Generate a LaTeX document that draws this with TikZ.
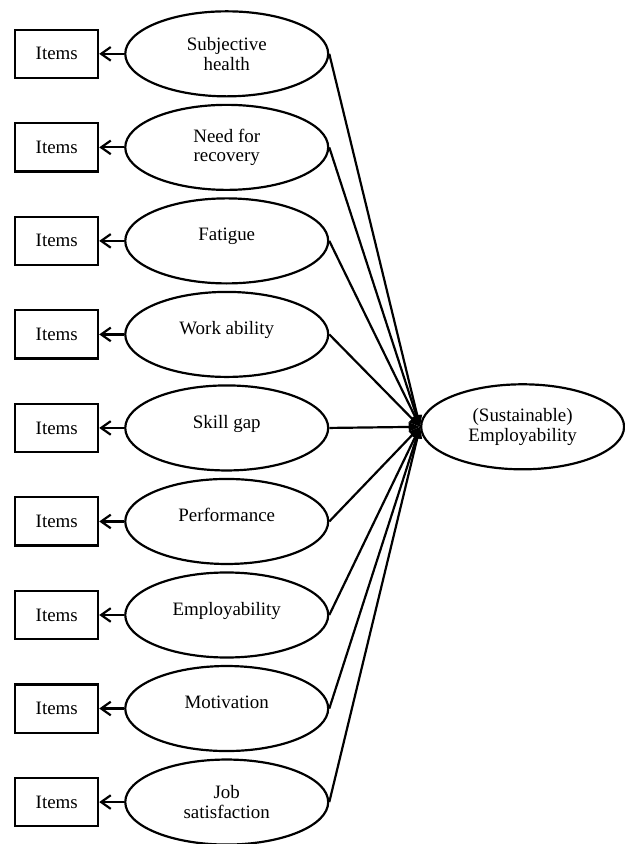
\documentclass[tikz,border=0pt]{standalone}
\usepackage{fontspec}
\setmainfont{Liberation Serif}
\usetikzlibrary{positioning}
\usetikzlibrary{shapes.geometric}
\usetikzlibrary{arrows.meta}

\begin{document}
\begin{tikzpicture}[line width=1.1pt, font=\fontsize{9.5}{9.9}\selectfont,
  factor/.style={draw, ellipse, minimum width=3.58cm, minimum height=1.5cm, inner sep=0pt, align=center},
  itembox/.style={draw, rectangle, minimum width=1.46cm, minimum height=0.85cm},
  load/.style={-{Straight Barb[length=1.7mm,width=2.4mm]}},
  effect/.style={-{Triangle[length=2mm,width=1.6mm]}}]
\useasboundingbox (0,0) rectangle (11.02,14.89);
%outcome
\node[factor] (empl) at (9.22,7.36) {(Sustainable)\\Employability};
%factors
\node[factor] (health) at (4.0,13.94) {Subjective\\health};
\node[factor] (recov) at (4.0,12.29) {Need for\\recovery};
\node[factor] (fatig) at (4.0,10.64) {Fatigue\\[-3.5pt]\mbox{}};
\node[factor] (wab) at (4.0,8.99) {Work ability\\[-3.5pt]\mbox{}};
\node[factor] (skill) at (4.0,7.34) {Skill gap\\[-3.5pt]\mbox{}};
\node[factor] (perf) at (4.0,5.69) {Performance\\[-3.5pt]\mbox{}};
\node[factor] (empab) at (4.0,4.04) {Employability\\[-3.5pt]\mbox{}};
\node[factor] (motiv) at (4.0,2.39) {Motivation\\[-3.5pt]\mbox{}};
\node[factor] (jobsat) at (4.0,0.74) {Job\\satisfaction};
%items
\node[itembox, left=0.44cm of health] (i1) {Items};
\node[itembox, left=0.44cm of recov] (i2) {Items};
\node[itembox, left=0.44cm of fatig] (i3) {Items};
\node[itembox, left=0.44cm of wab] (i4) {Items};
\node[itembox, left=0.44cm of skill] (i5) {Items};
\node[itembox, left=0.44cm of perf] (i6) {Items};
\node[itembox, left=0.44cm of empab] (i7) {Items};
\node[itembox, left=0.44cm of motiv] (i8) {Items};
\node[itembox, left=0.44cm of jobsat] (i9) {Items};
%loadings
\draw[load] (health.west) -- (i1.east);
\draw[load] (recov.west) -- (i2.east);
\draw[load] (fatig.west) -- (i3.east);
\draw[load] (wab.west) -- (i4.east);
\draw[load] (skill.west) -- (i5.east);
\draw[load] (perf.west) -- (i6.east);
\draw[load] (empab.west) -- (i7.east);
\draw[load] (motiv.west) -- (i8.east);
\draw[load] (jobsat.west) -- (i9.east);
%paths to outcome
\draw[effect] (health.east) -- (empl.west);
\draw[effect] (recov.east) -- (empl.west);
\draw[effect] (fatig.east) -- (empl.west);
\draw[effect] (wab.east) -- (empl.west);
\draw[effect] (skill.east) -- (empl.west);
\draw[effect] (perf.east) -- (empl.west);
\draw[effect] (empab.east) -- (empl.west);
\draw[effect] (motiv.east) -- (empl.west);
\draw[effect] (jobsat.east) -- (empl.west);
\end{tikzpicture}
\end{document}
